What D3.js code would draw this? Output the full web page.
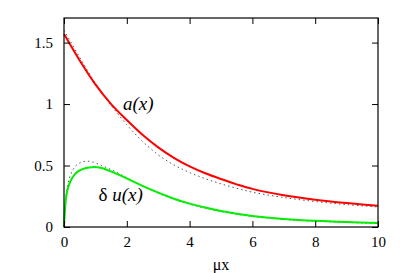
<!DOCTYPE html>
<html>
<head>
<meta charset="utf-8">
<script src="https://cdn.jsdelivr.net/npm/d3@7"></script>
<style>
  body { margin: 0; background: #fff; }
  svg text { font-family: "Liberation Serif", "Times New Roman", Times, "DejaVu Serif", serif; }
</style>
</head>
<body>
<div id="chart"></div>
<script>
// a(x) and delta u(x) versus mu x, with dotted approximations

// Data
const xTicks = [0, 2, 4, 6, 8, 10];
const yTicks = [0, 0.5, 1, 1.5];
const yTickLabels = ["0", "0.5", "1", "1.5"];

const aX   = [0, 0.5, 1, 1.5, 2, 2.5, 3, 3.5, 4, 4.5, 5, 5.5, 6, 7, 8, 9, 10];
const aY   = [1.57, 1.355, 1.16, 1.0, 0.87, 0.75, 0.648, 0.563, 0.493, 0.437, 0.39, 0.347, 0.31, 0.258, 0.222, 0.195, 0.173];
const aFit = [1.60, 1.38, 1.17, 0.99, 0.832, 0.697, 0.587, 0.505, 0.443, 0.393, 0.351, 0.315, 0.283, 0.24, 0.207, 0.182, 0.163];

const uX   = [0, 0.05, 0.1, 0.2, 0.35, 0.5, 0.7, 0.9, 1.2, 1.6, 2, 2.5, 3, 3.5, 4, 4.5, 5, 5.5, 6, 7, 8, 9, 10];
const uY   = [0, 0.2, 0.29, 0.37, 0.43, 0.46, 0.48, 0.487, 0.48, 0.44, 0.395, 0.335, 0.28, 0.23, 0.19, 0.158, 0.13, 0.108, 0.09, 0.066, 0.05, 0.04, 0.033];
const uFit = [0, 0.22, 0.32, 0.42, 0.49, 0.52, 0.535, 0.53, 0.50, 0.455, 0.40, 0.333, 0.276, 0.226, 0.185, 0.153, 0.126, 0.104, 0.086, 0.062, 0.047, 0.037, 0.03];

// Dimensions
const width = 405, height = 273,
      marginTop = 18, marginRight = 27, marginBottom = 46, marginLeft = 64;

const x = d3.scaleLinear()
    .domain([0, 10])
    .range([marginLeft, width - marginRight]);

const y = d3.scaleLinear()
    .domain([0, 1.7])
    .range([height - marginBottom, marginTop]);

const svg = d3.select("#chart")
  .append("svg")
    .attr("width", width)
    .attr("height", height)
    .attr("viewBox", [0, 0, width, height]);

const line = d3.line()
    .x(d => x(d[0]))
    .y(d => y(d[1]))
    .curve(d3.curveCatmullRom.alpha(0.5));

// Dotted approximations first (under the solid curves)
const dotted = [d3.zip(aX, aFit), d3.zip(uX, uFit)];
svg.append("g")
    .attr("fill", "none")
    .attr("stroke", "#555")
    .attr("stroke-width", 1)
    .attr("stroke-dasharray", "1.5,3")
  .selectAll("path")
  .data(dotted)
  .join("path")
    .attr("d", line);

// Solid curves
svg.append("path")
    .attr("fill", "none")
    .attr("stroke", "#ff0000")
    .attr("stroke-width", 2)
    .attr("d", line(d3.zip(aX, aY)));

svg.append("path")
    .attr("fill", "none")
    .attr("stroke", "#00ee00")
    .attr("stroke-width", 2)
    .attr("d", line(d3.zip(uX, uY)));

// Axes, ticks inward on all four sides
const tickLen = 6;
svg.append("g")
    .attr("transform", `translate(0,${height - marginBottom})`)
    .call(d3.axisBottom(x).tickValues(xTicks).tickSizeInner(-tickLen).tickSizeOuter(0).tickPadding(9))
    .call(g => g.select(".domain").remove())
    .call(g => g.selectAll("text").attr("font-size", 15).attr("fill", "#000"));

svg.append("g")
    .attr("transform", `translate(${marginLeft},0)`)
    .call(d3.axisLeft(y).tickValues(yTicks).tickFormat((d, i) => yTickLabels[i])
            .tickSizeInner(-tickLen).tickSizeOuter(0).tickPadding(11))
    .call(g => g.select(".domain").remove())
    .call(g => g.selectAll("text").attr("font-size", 15).attr("fill", "#000"));

svg.append("g")
    .attr("transform", `translate(0,${marginTop})`)
    .call(d3.axisTop(x).tickValues(xTicks).tickSizeInner(-tickLen).tickSizeOuter(0).tickFormat(""))
    .call(g => g.select(".domain").remove());

svg.append("g")
    .attr("transform", `translate(${width - marginRight},0)`)
    .call(d3.axisRight(y).tickValues(yTicks).tickSizeInner(-tickLen).tickSizeOuter(0).tickFormat(""))
    .call(g => g.select(".domain").remove());

// Frame
svg.append("rect")
    .attr("x", marginLeft)
    .attr("y", marginTop)
    .attr("width", width - marginLeft - marginRight)
    .attr("height", height - marginTop - marginBottom)
    .attr("fill", "none")
    .attr("stroke", "#000")
    .attr("stroke-width", 1.2);

// Curve labels
svg.append("text")
    .attr("x", x(1.88))
    .attr("y", y(0.95))
    .attr("font-size", 19)
    .attr("font-style", "italic")
    .text("a(x)");

const du = svg.append("text")
    .attr("x", x(1.1))
    .attr("y", y(0.21))
    .attr("font-size", 19);
du.append("tspan").text("δ ");
du.append("tspan").attr("font-style", "italic").text("u(x)");

// Axis title
svg.append("text")
    .attr("x", x(5))
    .attr("y", 270)
    .attr("text-anchor", "middle")
    .attr("font-size", 16)
    .text("μx");
</script>
</body>
</html>
